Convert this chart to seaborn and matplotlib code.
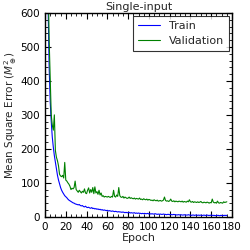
import pandas as pd
import matplotlib
matplotlib.use("Agg")
import matplotlib.pyplot as plt
import seaborn as sns
from matplotlib.ticker import MultipleLocator, AutoMinorLocator

# Valeurs (MSE par epoch)
train_loss = [1400, 900, 620, 440, 340, 280, 235, 205, 180, 160,
              140, 122, 108, 97, 86, 78, 72, 67, 62, 59,
              56, 52, 49, 47, 45, 43, 41, 40, 38, 37,
              36, 35, 36, 33, 32, 33, 30, 29, 31, 28,
              27, 28, 26, 25, 27, 24, 25, 23, 24, 22,
              23, 21, 22, 20, 21, 19, 20, 19, 18, 19,
              17, 18, 17, 16, 17, 16, 15, 16, 15, 14,
              15, 14, 14, 13, 14, 13, 12, 13, 12, 12,
              13, 11, 12, 11, 11, 12, 10, 11, 10, 11,
              10, 10, 9, 10, 9, 10, 9, 9, 10, 8,
              9, 8, 9, 8, 8, 9, 8, 7, 8, 7,
              8, 7, 7, 8, 7, 7, 6, 7, 7, 6,
              7, 6, 6, 7, 6, 6, 5, 6, 6, 5,
              6, 5, 5, 6, 5, 5, 5, 6, 5, 5,
              4, 5, 5, 4, 5, 5, 4, 5, 4, 5,
              4, 4, 5, 4, 4, 5, 4, 4, 4, 5,
              4, 4, 4, 3, 4, 4, 4, 3, 4, 4,
              3, 4, 4, 4, 4]
val_loss = [1500, 1000, 700, 520, 410, 300, 270, 255, 300, 195,
            175, 165, 150, 125, 120, 118, 122, 114, 160, 108,
            105, 100, 96, 90, 80, 84, 82, 86, 105, 80,
            76, 72, 78, 74, 70, 75, 72, 82, 70, 68,
            78, 85, 70, 80, 72, 86, 68, 88, 70, 74,
            66, 78, 64, 70, 60, 62, 58, 60, 59, 58,
            60, 58, 57, 60, 58, 78, 60, 58, 64, 60,
            86, 62, 58, 57, 60, 55, 58, 56, 54, 55,
            58, 54, 56, 54, 53, 55, 52, 54, 53, 52,
            55, 51, 52, 50, 53, 51, 50, 52, 49, 51,
            50, 48, 49, 47, 50, 48, 47, 49, 46, 47,
            48, 46, 47, 49, 58, 48, 46, 47, 45, 47,
            52, 46, 45, 47, 44, 46, 45, 44, 46, 45,
            44, 46, 43, 45, 44, 43, 46, 44, 50, 44,
            43, 45, 42, 44, 43, 42, 44, 42, 43, 45,
            42, 41, 43, 42, 41, 43, 42, 40, 42, 41,
            52, 43, 41, 42, 40, 46, 41, 40, 42, 41,
            40, 44, 42, 43, 44]
epochs = list(range(1, len(train_loss) + 1))

df = pd.DataFrame({"Epoch": epochs + epochs,
                   "MSE": train_loss + val_loss,
                   "Set": ["Train"] * len(train_loss) + ["Validation"] * len(val_loss)})

sns.set_style("ticks")
plt.rcParams.update({
    "font.family": ["DejaVu Sans"],
    "xtick.direction": "in", "ytick.direction": "in",
    "xtick.top": True, "ytick.right": True,
    "xtick.major.size": 4, "ytick.major.size": 4,
    "xtick.minor.size": 2, "ytick.minor.size": 2,
    "xtick.color": "black", "ytick.color": "black",
    "axes.edgecolor": "black", "axes.linewidth": 1.0,
})

fig = plt.figure(figsize=(2.5, 2.5), dpi=100)
ax = fig.add_axes([0.18, 0.133, 0.748, 0.815])

sns.lineplot(data=df, x="Epoch", y="MSE", hue="Set",
             palette={"Train": "blue", "Validation": "green"},
             linewidth=0.8, ax=ax)

ax.set_xlim(0, 180)
ax.set_ylim(0, 600)
ax.xaxis.set_major_locator(MultipleLocator(20))
ax.yaxis.set_major_locator(MultipleLocator(100))
ax.xaxis.set_minor_locator(AutoMinorLocator())
ax.yaxis.set_minor_locator(AutoMinorLocator())
ax.tick_params(which="both", labelsize=7.5, top=True, right=True)
ax.set_xlabel("Epoch", fontsize=8, labelpad=1)
ax.set_ylabel(r"Mean Square Error ($M_\oplus^2$)", fontsize=7.5, labelpad=1)
ax.set_title("Single-input", fontsize=8, pad=2)

leg = ax.legend(loc="upper right", fontsize=8, frameon=True, fancybox=False,
                borderaxespad=0.3, handlelength=2)
leg.get_frame().set_edgecolor("black")
leg.get_frame().set_linewidth(0.8)

fig.savefig("out.png", dpi=100)
